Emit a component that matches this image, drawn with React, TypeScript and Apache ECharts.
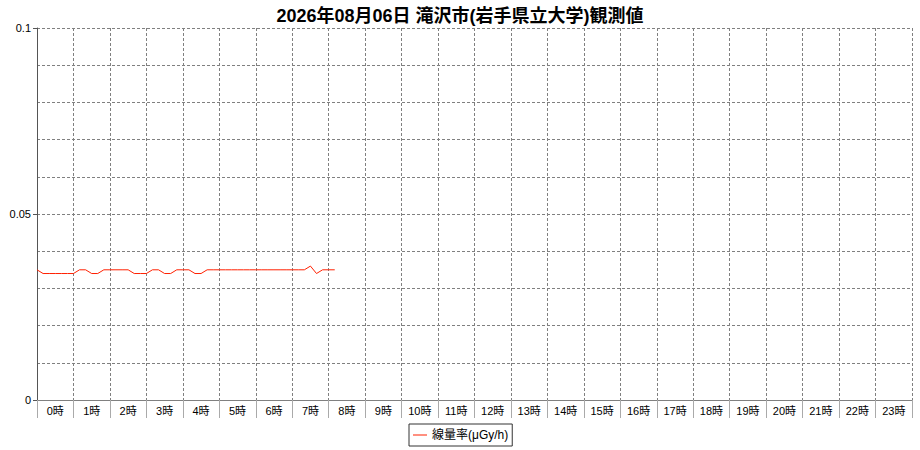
import React, { useEffect, useRef } from "react";
import * as echarts from "echarts";

const TITLE = "2026年08月06日 滝沢市(岩手県立大学)観測値";
const SERIES_NAME = "線量率(μGy/h)";
const HOUR_LABELS = Array.from({ length: 24 }, (_, i) => `${i}時`);
// 10-minute readings starting at 0:00
const TIMES_MIN = [
  0, 10, 20, 30, 40, 50, 60, 70, 80, 90, 100, 110, 120, 130, 140, 150, 160, 170,
  180, 190, 200, 210, 220, 230, 240, 250, 260, 270, 280, 290, 300, 310, 320, 330,
  340, 350, 360, 370, 380, 390, 400, 410, 420, 430, 440, 450, 460, 470, 480, 490,
];
const VALUES = [
  0.035, 0.034, 0.034, 0.034, 0.034, 0.034, 0.034, 0.035, 0.035, 0.034, 0.034, 0.035,
  0.035, 0.035, 0.035, 0.035, 0.034, 0.034, 0.034, 0.035, 0.035, 0.034, 0.034, 0.035,
  0.035, 0.035, 0.034, 0.034, 0.035, 0.035, 0.035, 0.035, 0.035, 0.035, 0.035, 0.035,
  0.035, 0.035, 0.035, 0.035, 0.035, 0.035, 0.035, 0.035, 0.035, 0.036, 0.034, 0.035,
  0.035, 0.035,
];

const FONT = '"Liberation Sans", Arial, "Noto Sans CJK JP", sans-serif';
const GRID_LINE = { color: "#808080", type: [3, 2] as any, width: 1 };

export default function App() {
  const ref = useRef<HTMLDivElement>(null);
  useEffect(() => {
    if (!ref.current) return;
    const chart = echarts.init(ref.current, null, { renderer: "svg" });
    chart.setOption({
      animation: false,
      backgroundColor: "#ffffff",
      textStyle: { fontFamily: FONT },
      title: {
        text: TITLE,
        left: "center",
        top: 2,
        textStyle: { fontSize: 18, fontWeight: "bold", color: "#000", fontFamily: FONT },
      },
      legend: {
        left: 409,
        top: 424,
        padding: [5, 4, 5, 4],
        borderColor: "#333",
        borderWidth: 1,
        icon: "rect",
        itemWidth: 14,
        itemHeight: 1,
        itemGap: 4,
        textStyle: { fontSize: 12, color: "#000", fontFamily: FONT },
        data: [SERIES_NAME],
      },
      grid: { left: 37, right: 8, top: 28, bottom: 50, containLabel: false },
      xAxis: [
        {
          type: "category",
          data: HOUR_LABELS,
          boundaryGap: true,
          axisLine: { lineStyle: { color: "#808080", width: 1 } },
          axisTick: { show: true, length: 18, interval: 0, lineStyle: { color: "#aaa" } },
          axisLabel: { interval: 0, fontSize: 11, color: "#000", margin: 5, fontFamily: FONT },
          splitLine: { show: true, interval: 0, lineStyle: GRID_LINE },
        },
        {
          type: "value",
          min: 0,
          max: 1440,
          show: false,
          splitLine: { show: false },
        },
      ],
      yAxis: {
        type: "value",
        min: 0,
        max: 0.1,
        interval: 0.05,
        axisLine: { show: true, lineStyle: { color: "#555", width: 1 } },
        axisTick: { show: true, length: 4, lineStyle: { color: "#555" } },
        axisLabel: { fontSize: 11, color: "#000", margin: 6, fontFamily: FONT },
        splitLine: { show: true, lineStyle: GRID_LINE },
        minorTick: { show: false, splitNumber: 5 },
        minorSplitLine: { show: true, lineStyle: GRID_LINE },
      },
      series: [
        {
          name: SERIES_NAME,
          type: "line",
          xAxisIndex: 1,
          data: TIMES_MIN.map((t, i) => [t, VALUES[i]]),
          showSymbol: false,
          symbol: "none",
          lineStyle: { color: "#ff2000", width: 1 },
          itemStyle: { color: "#ff2000" },
        },
      ],
    });
    return () => chart.dispose();
  }, []);
  return (
    <div
      ref={ref}
      style={{ position: "absolute", left: 0, top: 0, width: 920, height: 450 }}
    />
  );
}
